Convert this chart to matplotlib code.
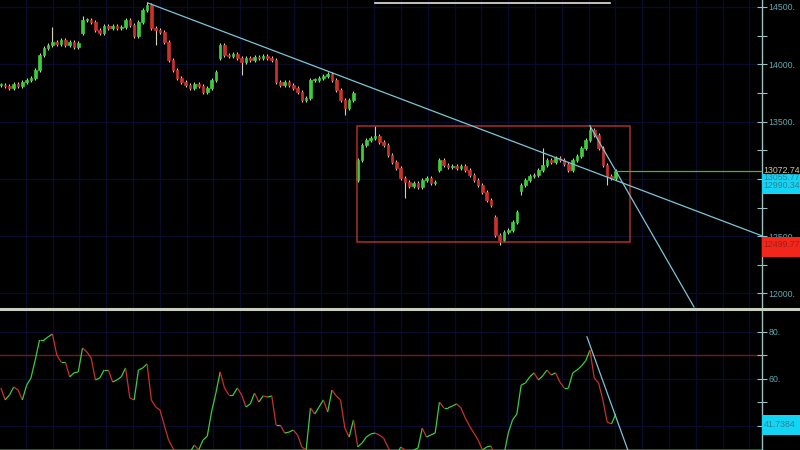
import numpy as np
import matplotlib
matplotlib.use('Agg')
import matplotlib.pyplot as plt
from matplotlib.collections import LineCollection
from matplotlib.patches import Rectangle

plt.rcParams['font.family'] = ['Liberation Sans Narrow', 'Liberation Sans', 'DejaVu Sans']

# daily closes
closes = [
    13819, 13811, 13793, 13828, 13811, 13846, 13863, 13881, 13950, 14081,
    14142, 14168, 14195, 14177, 14212, 14168, 14195, 14151, 14186, 14387,
    14387, 14369, 14299, 14273, 14334, 14317, 14334, 14317, 14325, 14387,
    14343, 14247, 14369, 14474, 14517, 14317, 14299, 14282, 14195, 14038,
    13950, 13881, 13846, 13819, 13793, 13828, 13811, 13758, 13793, 13863,
    13933, 14168, 14081, 14072, 14090, 14055, 14020, 14055, 14038, 14064,
    14055, 14072, 14055, 14038, 13846, 13819, 13846, 13819, 13793, 13758,
    13688, 13706, 13863, 13863, 13881, 13898, 13915, 13863, 13776, 13688,
    13619, 13688, 13750, 13165, 13296, 13339, 13357, 13374, 13322, 13296,
    13209, 13147, 13095, 13008, 12973, 12938, 12964, 12929, 12990, 13008,
    12964, 12973, 13165, 13121, 13104, 13113, 13095, 13113, 13078, 13034,
    12990, 12947, 12886, 12816, 12772, 12510, 12467, 12537, 12554, 12624,
    12711, 12947, 12990, 13025, 13034, 13078, 13121, 13165, 13147, 13182,
    13165, 13130, 13078, 13165, 13200, 13270, 13339, 13427, 13383, 13270,
    13121, 13025, 13008, 13072.74,
]
# opening gaps (bar index -> open), other bars open at the prior close
gap_opens = {19: 14273, 51: 14055, 83: 12990, 102: 13078, 115: 12667, 121: 12895}
# long wicks
high_wicks = {12: 14325, 19: 14420, 34: 14540, 87: 13462, 126: 13270, 137: 13470}
low_wicks = {36: 14168, 56: 13907, 80: 13558, 94: 12833, 116: 12423, 121: 12860, 141: 12947}

rsi = [
    56.2, 51.1, 53.2, 56.6, 55.3, 51.1, 57.4, 60.4, 68.1, 76.6,
    76.6, 77.9, 79.1, 70.2, 67.2, 67.2, 60.9, 62.6, 63.0, 73.2,
    71.5, 68.9, 59.6, 60.4, 63.8, 63.8, 58.7, 59.6, 60.9, 64.7,
    51.9, 51.1, 63.8, 64.7, 66.4, 51.1, 48.1, 46.8, 40.4, 34.0,
    30.6, 27.7, 26.4, 26.4, 28.9, 31.9, 29.8, 34.0, 35.7, 46.0,
    54.0, 63.0, 56.2, 53.2, 53.2, 56.2, 53.2, 48.1, 49.4, 54.0,
    50.2, 52.8, 52.3, 52.8, 40.4, 40.4, 37.0, 37.4, 38.3, 36.2,
    31.1, 29.8, 47.7, 45.1, 48.1, 51.1, 46.0, 55.3, 52.8, 51.1,
    39.1, 35.3, 42.6, 31.1, 32.8, 35.3, 36.6, 37.0, 36.2, 34.9,
    31.1, 27.7, 27.7, 31.1, 29.8, 28.9, 29.8, 30.6, 39.1, 35.3,
    36.2, 37.0, 50.2, 47.7, 47.7, 48.5, 49.4, 47.7, 43.4, 40.0,
    37.0, 34.0, 29.8, 31.1, 31.5, 26.4, 25.5, 27.7, 37.0, 42.6,
    45.1, 57.4, 58.3, 60.9, 62.6, 59.6, 61.3, 63.8, 61.7, 62.6,
    58.7, 56.2, 56.2, 62.6, 63.8, 65.5, 67.7, 72.3, 60.4, 58.3,
    51.1, 41.7, 40.9, 45.1,
]

price_ticks = [12000, 12500, 13000, 13500, 14000, 14500]
rsi_ticks = [60, 80]

# trendlines: (bar, price) anchors
trend1 = [(34.2, 14535), (177.2, 12500)]
trend2 = [(137.0, 13462), (161.2, 11882)]
rsi_trend = [(136.3, 77.9), (145.8, 29.8)]
# consolidation box: bars / prices
box_bars = (82.8, 146.3)
box_prices = (12449, 13462)

last_price = 13072.74
trend_labels = [13055.77, 12990.34]
edge_label = 12499.77
rsi_last = 41.7384

BG = 'black'
GRID = '#0a0a2c'
UP = '#3ccc3c'
DOWN = '#c8322a'
WICK = '#d8d2b2'
TREND = '#7cc4d6'
AXC = '#9cc0c0'
TXT = '#5fa8ae'
FS = 6.3

n = len(closes)
x = np.arange(n)
opens = [closes[0]] + closes[:-1]
for k, v in gap_opens.items():
    opens[k] = v
opens = np.array(opens, dtype=float)
closes_a = np.array(closes, dtype=float)
highs = np.maximum(opens, closes_a) + 15
lows = np.minimum(opens, closes_a) - 15
for k, v in high_wicks.items():
    highs[k] = v
for k, v in low_wicks.items():
    lows[k] = v

fig = plt.figure(figsize=(8, 4.5), dpi=100, facecolor=BG)
ax = fig.add_axes([0, 142 / 450, 762 / 800, 308 / 450], facecolor=BG)
ax2 = fig.add_axes([0, 0, 762 / 800, 139 / 450], facecolor=BG)

xmax = 762 / 4.3
vgrid = np.arange(25, 762, 26.8) / 4.3
for a in (ax, ax2):
    a.set_xlim(-0.2, xmax - 0.2)
    for s in ('left', 'top', 'bottom'):
        a.spines[s].set_visible(False)
    a.spines['right'].set_color(AXC)
    a.spines['right'].set_linewidth(1)
    a.set_xticks([])
    for v in vgrid:
        a.axvline(v, color=GRID, lw=1.0, zorder=0)
    a.yaxis.tick_right()
    a.tick_params(axis='y', which='both', direction='inout', colors=AXC, labelcolor=TXT,
                  labelsize=FS, length=7, width=0.8, pad=1)

# price panel
ax.set_ylim(11873, 14561)
ax.set_yticks(price_ticks)
ax.set_yticklabels([f'{t}.' for t in price_ticks])
ax.set_yticks([t + 250 for t in price_ticks[:-1]], minor=True)
for t in price_ticks:
    ax.axhline(t, color=GRID, lw=1.0, zorder=0)

for i in range(n):
    col = UP if closes_a[i] >= opens[i] else DOWN
    ax.vlines(x[i], lows[i], highs[i], color=WICK, lw=0.8, zorder=2)
    lo = min(opens[i], closes_a[i])
    h = max(abs(closes_a[i] - opens[i]), 6)
    ax.add_patch(Rectangle((x[i] - 0.3, lo), 0.6, h, facecolor=col, edgecolor=col, lw=0.5, zorder=3))

ax.add_patch(Rectangle((box_bars[0], box_prices[0]), box_bars[1] - box_bars[0], box_prices[1] - box_prices[0],
                       facecolor='none', edgecolor='#a8302a', lw=1.1, zorder=4))

(x1, y1), (x2, y2) = trend1
ax.plot([x1, x2], [y1, y2], color=TREND, lw=0.9, zorder=5)
(x1, y1), (x2, y2) = trend2
ax.plot([x1, x2], [y1, y2], color=TREND, lw=0.9, zorder=5)
ax.plot([n - 1, xmax], [last_price, last_price], color='#3cb83c', lw=0.9, zorder=5)

# right-hand price labels (pixel offsets down the axis)
def ypix(a, v):
    lo, hi = a.get_ylim()
    return (v - lo) / (hi - lo)

px = 1 / 308
ax.add_patch(Rectangle((1.0, ypix(ax, last_price) - 23 * px), 0.06, 20 * px, transform=ax.transAxes,
                       facecolor='#14d4f4', edgecolor='none', clip_on=False, zorder=6))
ax.text(1.002, ypix(ax, last_price), f'{last_price:.2f}', transform=ax.transAxes, color='#d8c890',
        fontsize=FS, va='center', ha='left', clip_on=False, zorder=8)
for k, v in enumerate(trend_labels):
    ax.text(1.002, ypix(ax, last_price) - (7 + 8 * k) * px, f'{v:.2f}', transform=ax.transAxes,
            color='#2f7f92', fontsize=FS, va='center', ha='left', clip_on=False, zorder=7)
eb = ypix(ax, edge_label)
ax.add_patch(Rectangle((1.0, eb - 21 * px), 0.06, 20 * px, transform=ax.transAxes,
                       facecolor='#f2261a', edgecolor='none', clip_on=False, zorder=6))
ax.text(1.002, eb - 8 * px, f'{edge_label:.2f}', transform=ax.transAxes, color='#a0201a',
        fontsize=FS, va='center', ha='left', clip_on=False, zorder=7)

# RSI panel
ax2.set_ylim(29.8, 88.9)
ax2.set_yticks(rsi_ticks)
ax2.set_yticklabels([f'{t}.' for t in rsi_ticks])
ax2.set_yticks([40, 50, 70], minor=True)
for t in (40, 60, 80):
    ax2.axhline(t, color=GRID, lw=1.0, zorder=0)
ax2.axhline(70, color='#7a1818', lw=1.0, zorder=1)
ax2.axhline(30, color='#2c6a2c', lw=2.0, zorder=1)

pts = np.column_stack([x, rsi])
segs = np.stack([pts[:-1], pts[1:]], axis=1)
cols = [UP if rsi[i + 1] >= rsi[i] else DOWN for i in range(n - 1)]
ax2.add_collection(LineCollection(segs, colors=cols, linewidths=0.9, zorder=3))
(x1, y1), (x2, y2) = rsi_trend
ax2.plot([x1, x2], [y1, y2], color=TREND, lw=0.9, zorder=4)

rpx = 1 / 139
rb = ypix(ax2, rsi_last) - 3 * rpx
ax2.add_patch(Rectangle((1.0, rb - 10 * rpx), 0.06, 20 * rpx, transform=ax2.transAxes,
                        facecolor='#14d4f4', edgecolor='none', clip_on=False, zorder=6))
ax2.text(1.002, rb, f'{rsi_last:.4f}', transform=ax2.transAxes, color='#2f7f92',
         fontsize=FS, va='center', ha='left', clip_on=False, zorder=7)

# panel separator and the clipped title underline
fig.add_artist(plt.Line2D([0, 1], [1 - 309 / 450, 1 - 309 / 450], transform=fig.transFigure,
                          color='#c8cfc0', lw=2.2))
fig.add_artist(plt.Line2D([375 / 800, 610 / 800], [1 - 3 / 450, 1 - 3 / 450], transform=fig.transFigure,
                          color='#e8e4d8', lw=1.2))

fig.savefig('out.png', dpi=100, facecolor=BG)
